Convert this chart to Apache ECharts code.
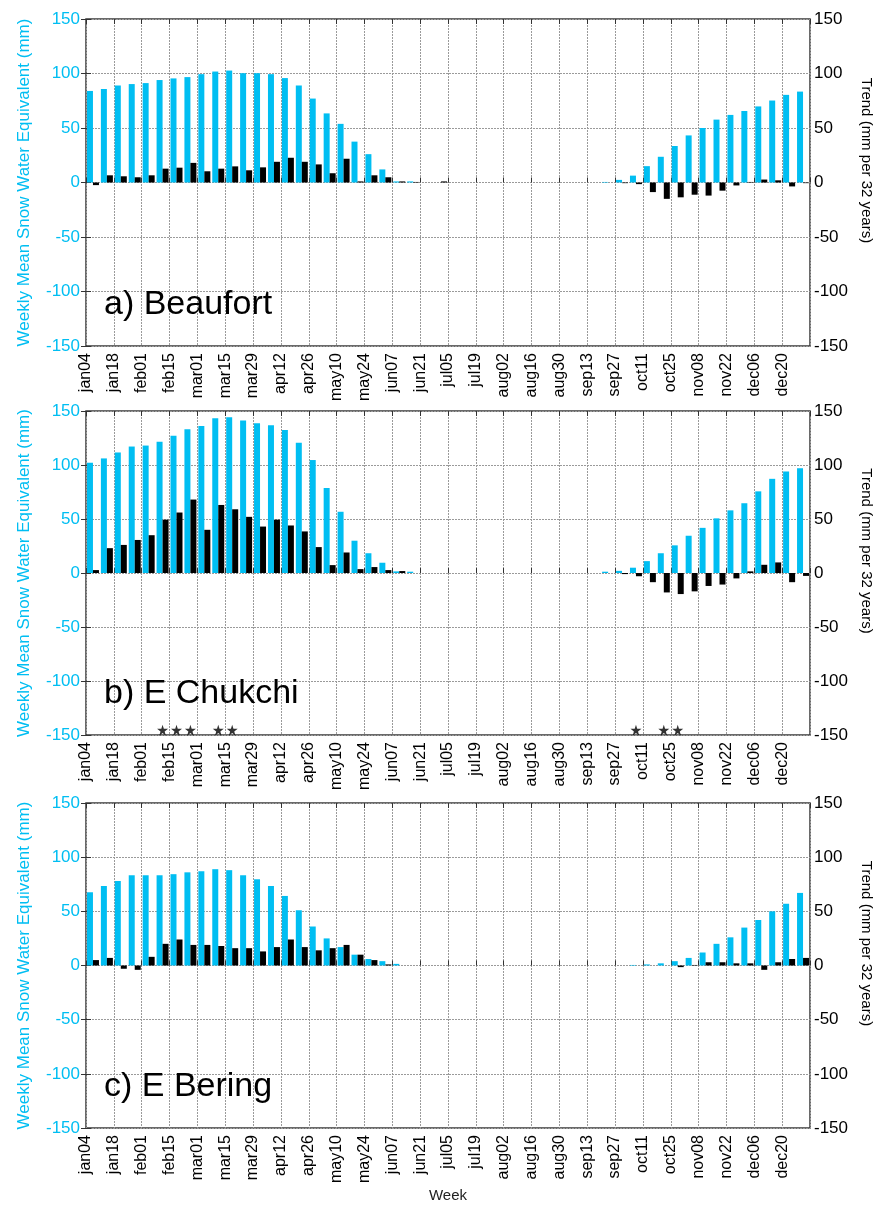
<!DOCTYPE html>
<html>
<head>
<meta charset="utf-8">
<script src="https://cdn.jsdelivr.net/npm/echarts@6/dist/echarts.min.js"></script>
<style>
html,body{margin:0;padding:0;background:#fff;}
#chart{width:875px;height:1209px;}
</style>
</head>
<body>
<div id="chart"></div>
<script>
// ---- data ----
const weeks = ['jan04','jan11','jan18','jan25','feb01','feb08','feb15','feb22','mar01','mar08','mar15','mar22','mar29',
  'apr05','apr12','apr19','apr26','may03','may10','may17','may24','may31','jun07','jun14','jun21','jun28',
  'jul05','jul12','jul19','jul26','aug02','aug09','aug16','aug23','aug30','sep06','sep13','sep20','sep27',
  'oct04','oct11','oct18','oct25','nov01','nov08','nov15','nov22','nov29','dec06','dec13','dec20','dec27'];
const tickLabels = ['jan04','jan18','feb01','feb15','mar01','mar15','mar29','apr12','apr26','may10','may24','jun07','jun21',
  'jul05','jul19','aug02','aug16','aug30','sep13','sep27','oct11','oct25','nov08','nov22','dec06','dec20'];
const yTicks = [-150, -100, -50, 0, 50, 100, 150];
const panelNames = ['a) Beaufort', 'b) E Chukchi', 'c) E Bering'];

const sweBeaufort = [84,85.8,89,90.3,91.2,94,95.5,96.7,99.4,101.8,102.7,100.3,100.3,99.4,95.8,89,77,63.4,53.8,37.5,26,12,1,1,
  0,0,0,0,0,0,0,0,0,0,0,0,0,
  0.5,2.4,6.3,15,23.6,33.5,43.2,50,57.7,62,65.6,69.8,75.2,80.4,83.4];
const trendBeaufort = [-2.4,6.6,5.7,4.8,6.6,12.7,13.6,18,10.3,12.7,14.8,11.2,13.9,19,22.7,19,16.6,8.5,21.8,1,6.6,4.8,1,0.5,0,1,
  0,0,0,0,0,0,0,0,0,0,0,
  0,-0.6,-1.5,-8.8,-15,-13.6,-11.2,-12,-7.5,-2.7,0.5,2.7,2,-3.6,-0.6];

const sweChukchi = [102.1,106.1,111.6,117.1,118,121.6,127.1,133.2,136,143.3,144.2,141.2,138.7,136.9,132.3,120.7,104.6,78.7,56.7,29.9,18.3,9.5,1.5,1.2,
  0,0,0,0,0,0,0,0,0,0,0,0,0,
  1.2,2,4.9,11,18.3,25.6,34.5,41.8,50.6,58,64.6,75.6,87.2,94,97];
const trendChukchi = [2.7,23,26,30.6,35,49.4,56,68,40,63,59,52,43,49.4,44,38.5,24,7.3,19,3.6,5.5,2.7,1.8,
  0,0,0,0,0,0,0,0,0,0,0,0,0,0,
  0,-1,-3,-8.5,-18,-19.5,-17,-12,-10.7,-5,1.5,7.6,9.8,-8.5,-2.7];
const sigChukchi = [5, 6, 7, 9, 10, 39, 41, 42];   // week indices with significant trend (*)

const sweBering = [67.6,73.4,78,83.3,83.3,83.3,84.3,86,87,88.9,88,83.3,79.6,73.4,64.2,51,36,25,17,10,6,4,1.5,
  0,0,0,0,0,0,0,0,0,0,0,0,0,0,0,0,
  0.5,1,2,4,7,12,20,26,35,42,50,57,67];
const trendBering = [5,7,-3,-4,8,20,24,19,19,18,16,16,13,17,24,17,14,16,19,10,5,1,
  0,0,0,0,0,0,0,0,0,0,0,0,0,0,0,0,0,0,0,
  0,-1.5,0.5,3,3,2,2,-4,3,6,7];

const sweSeries = [sweBeaufort, sweChukchi, sweBering];
const trendSeries = [trendBeaufort, trendChukchi, trendBering];
const sigSeries = [[], sigChukchi, []];

// ---- style ----
const FONT = 'Liberation Sans, Arial, Helvetica, sans-serif';
const CYAN = '#00BEF2';
const GRIDC = '#9a9a9a';
const panels = [
  {top: 19, height: 327},
  {top: 411, height: 324},
  {top: 803, height: 325}
];

const grid = [], xAxis = [], yAxis = [], series = [], title = [];
panels.forEach((p, k) => {
  grid.push({left: 86, right: 65, top: p.top, height: p.height, show: true, containLabel: false,
    outerBoundsMode: 'none',
    borderColor: '#3a3a3a', borderWidth: 1.5, backgroundColor: 'transparent'});
  // bar category axis (hidden)
  xAxis.push({type: 'category', gridIndex: k, data: weeks, show: false, boundaryGap: true});
  // label/grid axis at week boundaries
  xAxis.push({type: 'value', gridIndex: k, min: 0, max: weeks.length, interval: 2, position: 'bottom',
    axisLine: {show: false},
    axisTick: {show: true, inside: true, length: 5, lineStyle: {color: '#333'}},
    axisLabel: {rotate: 90, fontSize: 16, color: '#000', fontFamily: FONT, margin: 7, padding: [0, 0, 5, 0],
      formatter: v => tickLabels[Math.round(v / 2)] || '' , showMaxLabel: true, showMinLabel: true},
    splitLine: {show: true, lineStyle: {color: GRIDC, type: [2, 1], width: 1}},
    name: k === 2 ? 'Week' : '', nameLocation: 'middle', nameGap: 60,
    nameTextStyle: {fontSize: 15, color: '#222', fontFamily: FONT}
  });
  // top ticks
  xAxis.push({type: 'value', gridIndex: k, min: 0, max: weeks.length, interval: 2, position: 'top',
    axisLine: {show: false}, axisLabel: {show: false}, splitLine: {show: false},
    axisTick: {show: true, inside: true, length: 5, lineStyle: {color: '#333'}}});
  const yBase = {type: 'value', gridIndex: k, min: yTicks[0], max: yTicks[yTicks.length - 1], interval: 50,
    axisLine: {show: false}};
  yAxis.push(Object.assign({}, yBase, {position: 'left',
    axisTick: {show: true, inside: true, length: 5, lineStyle: {color: '#333'}},
    axisLabel: {color: CYAN, fontSize: 17, fontFamily: FONT, margin: 6},
    splitLine: {show: true, lineStyle: {color: GRIDC, type: [2, 1], width: 1}},
    name: 'Weekly Mean Snow Water Equivalent (mm)', nameLocation: 'middle', nameGap: 53,
    nameTextStyle: {color: CYAN, fontSize: 17, fontFamily: FONT}
  }));
  yAxis.push(Object.assign({}, yBase, {position: 'right',
    axisTick: {show: true, inside: true, length: 5, lineStyle: {color: '#333'}},
    axisLabel: {color: '#000', fontSize: 17, fontFamily: FONT, margin: 4},
    splitLine: {show: false},
    name: 'Trend (mm per 32 years)', nameLocation: 'middle', nameRotate: -90, nameGap: 46,
    nameTextStyle: {color: '#000', fontSize: 15, fontFamily: FONT, padding: [0, 44, 0, 0]}
  }));
  series.push({type: 'bar', name: 'SWE', xAxisIndex: 3 * k, yAxisIndex: 2 * k, data: sweSeries[k],
    barWidth: 6, barGap: '0%', itemStyle: {color: CYAN}, silent: true});
  series.push({type: 'bar', name: 'Trend', xAxisIndex: 3 * k, yAxisIndex: 2 * k + 1, data: trendSeries[k],
    barWidth: 6, barGap: '0%', itemStyle: {color: '#000'}, silent: true});
  if (sigSeries[k].length) {
    series.push({type: 'scatter', xAxisIndex: 3 * k, yAxisIndex: 2 * k + 1,
      data: sigSeries[k].map(i => [i, -145.5]),
      symbol: 'path://M50,0 L61,35 L98,35 L68,57 L79,91 L50,70 L21,91 L32,57 L2,35 L39,35 Z',
      symbolSize: 11, itemStyle: {color: '#000'}, silent: true, z: 5});
  }
  title.push({text: panelNames[k], left: 99, top: p.top + p.height - 63,
    textStyle: {fontSize: 34, fontWeight: 'normal', color: '#000', fontFamily: FONT}});
});

const chart = echarts.init(document.getElementById('chart'), null, {renderer: 'canvas'});
chart.setOption({
  animation: false,
  backgroundColor: '#fff',
  textStyle: {fontFamily: FONT},
  title, grid, xAxis, yAxis, series
});
</script>
</body>
</html>
